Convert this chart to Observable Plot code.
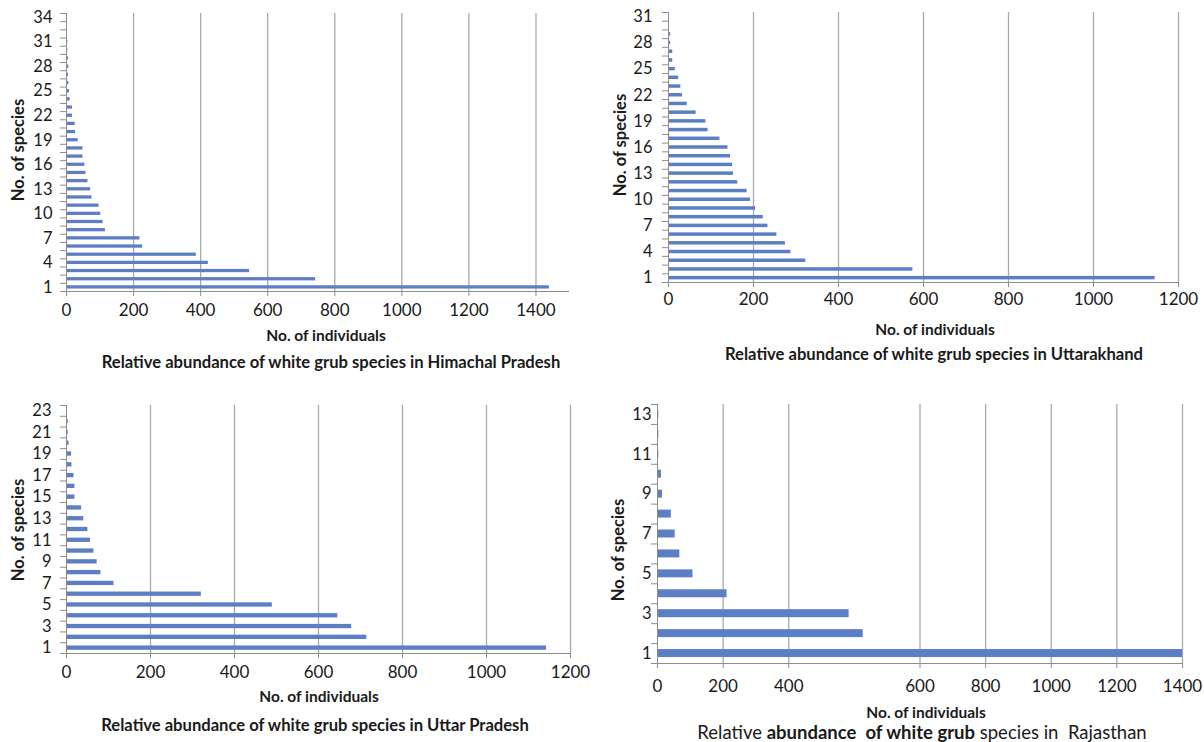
<!DOCTYPE html>
<html><head><meta charset="utf-8">
<script src="https://cdn.jsdelivr.net/npm/d3@7"></script>
<script src="https://cdn.jsdelivr.net/npm/@observablehq/plot@0.6"></script>
<style>
body{margin:0;background:#fff;}
#root{position:relative;width:1204px;height:742px;overflow:hidden;font-family:Lato,"Open Sans",sans-serif;color:#1a1a1a;background:#fff;}
.panel{position:absolute;}
.t{position:absolute;white-space:nowrap;transform:translate(-50%,-50%);line-height:1;}
.xt{font-weight:bold;font-size:15.5px;}
.tt{font-weight:bold;font-size:16.6px;}
.rt{font-size:18.5px;}
.yl{position:absolute;white-space:nowrap;transform:translate(-50%,-50%) rotate(-90deg);font-weight:bold;font-size:16.5px;line-height:1;}
</style></head><body><div id="root"></div>
<script>
// ---- data ----
const hpSpecies = [1,2,3,4,5,6,7,8,9,10,11,12,13,14,15,16,17,18,19,20,21,22,23,24,25,26,27,28,29,30,31,32,33,34];
const hpCounts  = [1440,743,546,423,387,227,219,116,109,102,97,76,72,64,58,55,49,49,35,27,26,18,18,11,9,7,6,7,6,4,4,3,3,3];
const hpYTicks  = [1,4,7,10,13,16,19,22,25,28,31,34];
const hpXTicks  = [0,200,400,600,800,1000,1200,1400];

const utSpecies = [1,2,3,4,5,6,7,8,9,10,11,12,13,14,15,16,17,18,19,20,21,22,23,24,25,26,27,28,29,30,31];
const utCounts  = [1145,575,323,288,275,255,234,223,205,193,185,163,153,151,146,140,121,93,88,65,44,33,29,24,16,10,10,5,5,2,2];
const utYTicks  = [1,4,7,10,13,16,19,22,25,28,31];
const utXTicks  = [0,200,400,600,800,1000,1200];

const upSpecies = [1,2,3,4,5,6,7,8,9,10,11,12,13,14,15,16,17,18,19,20,21,22,23];
const upCounts  = [1143,715,679,646,490,321,113,82,73,65,57,51,41,36,20,20,18,13,12,6,4,4,2];
const upYTicks  = [1,3,5,7,9,11,13,15,17,19,21,23];
const upXTicks  = [0,200,400,600,800,1000,1200];

const rjSpecies = [1,2,3,4,5,6,7,8,9,10,11,12,13];
const rjCounts  = [1600,627,584,212,108,68,54,42,15,12,4,4,4];
const rjYTicks  = [1,3,5,7,9,11,13];
const rjXTicks  = [0,200,400,800,1000,1200,1400,1600];
const rjXTickLabels = ["0","200","400","600","800","1000","1200","1400"];

const xTitle = "No. of individuals";
const yTitle = "No. of species";
const titles = [
  "Relative abundance of white grub species in Himachal Pradesh",
  "Relative abundance of white grub species in Uttarakhand",
  "Relative abundance of white grub species in Uttar Pradesh"
];

// ---- drawing ----
const root = document.getElementById("root");
const BAR = "#5b7ec4", GRID = "#a9a9a9", AXIS = "#8c8c8c";

function panel(cfg){
  const data = cfg.species.map((s,i)=>({species:s, count:cfg.counts[i]}));
  const n = cfg.species.length;
  const yDom = [0.5, n + 0.5];
  const bounds = d3.range(0.5, n + 1, 1);
  const labels = cfg.xTickLabels;
  const fmt = labels ? (v => labels[cfg.xTicks.indexOf(v)]) : (v => String(v));
  const chart = Plot.plot({
    width: cfg.w, height: cfg.h,
    marginLeft: cfg.ml, marginRight: cfg.mr, marginTop: cfg.mt, marginBottom: cfg.mb,
    x: {domain: cfg.xDomain},
    y: {domain: yDom},
    style: {fontFamily: "Lato, 'Open Sans', sans-serif", fontSize: "17px", color: "#1a1a1a", background: "transparent", overflow: "visible"},
    marks: [
      Plot.ruleX(cfg.grid, {stroke: GRID, strokeWidth: 1.3}),
      Plot.rectX(data, {x1: 0, x2: "count", y1: d => d.species - 0.2, y2: d => d.species + 0.2, fill: BAR}),
      Plot.ruleX([0], {stroke: AXIS}),
      Plot.ruleY([yDom[0]], {stroke: AXIS}),
      Plot.axisX({ticks: cfg.xTicks, tickFormat: fmt, tickSize: 5, tickPadding: cfg.xPad, label: null, stroke: AXIS, fontSize: 17}),
      Plot.axisY({ticks: bounds, tickFormat: () => "", tickSize: 6, label: null, stroke: AXIS}),
      Plot.axisY({ticks: cfg.yTicks, tickSize: 0, tickPadding: cfg.yPad, label: null, fontSize: 16.5})
    ]
  });
  chart.classList.add("panel");
  chart.style.left = cfg.left + "px";
  chart.style.top = cfg.top + "px";
  root.appendChild(chart);
}

function text(cls, str, x, y, html){
  const d = document.createElement("div");
  d.className = cls;
  if (html) d.innerHTML = str; else d.textContent = str;
  d.style.left = x + "px";
  d.style.top = y + "px";
  root.appendChild(d);
}

panel({species: hpSpecies, counts: hpCounts, yTicks: hpYTicks, xTicks: hpXTicks, grid: hpXTicks.slice(1),
  xDomain: [0,1500], left: 0, top: 0, w: 600, h: 350, ml: 66, mr: 31, mt: 13, mb: 59, xPad: 7, yPad: 14});
panel({species: utSpecies, counts: utCounts, yTicks: utYTicks, xTicks: utXTicks, grid: utXTicks.slice(1),
  xDomain: [0,1200], left: 600, top: 0, w: 604, h: 350, ml: 68, mr: 26, mt: 12, mb: 68, xPad: 5, yPad: 16});
panel({species: upSpecies, counts: upCounts, yTicks: upYTicks, xTicks: upXTicks, grid: upXTicks.slice(1),
  xDomain: [0,1200], left: 0, top: 380, w: 600, h: 330, ml: 66, mr: 30, mt: 25, mb: 57, xPad: 7, yPad: 15});
panel({species: rjSpecies, counts: rjCounts, yTicks: rjYTicks, xTicks: rjXTicks, xTickLabels: rjXTickLabels, grid: rjXTicks.slice(1),
  xDomain: [0,1600], left: 600, top: 380, w: 604, h: 330, ml: 57, mr: 22, mt: 24, mb: 47, xPad: 11, yPad: 6});

text("t xt", xTitle, 326, 336);
text("t tt", titles[0], 331, 362);
text("yl", yTitle, 18, 150);

text("t xt", xTitle, 935, 330);
text("t tt", titles[1], 934, 354);
text("yl", yTitle, 620, 145);

text("t xt", xTitle, 319, 697);
text("t tt", titles[2], 315, 725);
text("yl", yTitle, 18, 530);

text("t xt", xTitle, 926, 713);
text("t rt", 'Relative <b>abundance&nbsp; of white grub</b> species in&nbsp; Rajasthan', 922, 732, true);
text("yl", yTitle, 618, 550);
</script>
</body></html>
